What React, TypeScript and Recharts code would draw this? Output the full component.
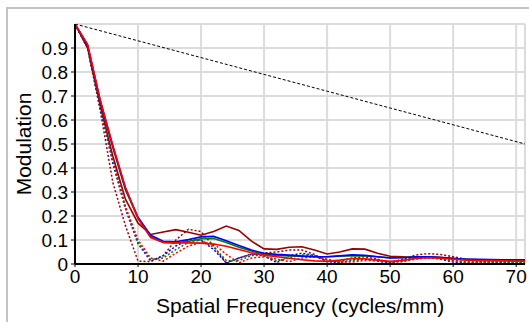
import React from 'react';
import {
  LineChart,
  Line,
  XAxis,
  YAxis,
  CartesianGrid,
  ReferenceLine,
  Label
} from 'recharts';

// spatial frequency samples (cycles/mm), Nyquist at 71.4
const freq = [0, 2, 4, 6, 8, 10, 12, 14, 16, 18, 20, 22, 24, 26, 28, 30, 32, 34, 36, 38, 40, 42, 44, 46, 48, 50, 52, 54, 56, 58, 60, 62, 64, 66, 68, 70, 71.4];

// solid curves
const tanBlue = [1, 0.91, 0.68, 0.49, 0.315, 0.195, 0.12, 0.095, 0.093, 0.102, 0.113, 0.115, 0.097, 0.077, 0.058, 0.045, 0.04, 0.037, 0.033, 0.03, 0.03, 0.034, 0.038, 0.036, 0.03, 0.025, 0.026, 0.03, 0.03, 0.027, 0.023, 0.02, 0.02, 0.019, 0.018, 0.018, 0.018];
const tanGreen = [1, 0.91, 0.675, 0.485, 0.31, 0.19, 0.115, 0.09, 0.088, 0.095, 0.105, 0.106, 0.09, 0.07, 0.054, 0.04, 0.036, 0.034, 0.032, 0.03, 0.03, 0.033, 0.035, 0.034, 0.03, 0.026, 0.027, 0.03, 0.03, 0.026, 0.022, 0.02, 0.018, 0.017, 0.016, 0.016, 0.016];
const tanRed = [1, 0.915, 0.685, 0.495, 0.32, 0.19, 0.11, 0.09, 0.088, 0.088, 0.087, 0.083, 0.074, 0.06, 0.047, 0.037, 0.03, 0.024, 0.018, 0.013, 0.011, 0.016, 0.023, 0.022, 0.016, 0.011, 0.015, 0.023, 0.026, 0.024, 0.02, 0.016, 0.014, 0.014, 0.013, 0.012, 0.012];
const tanDarkRed = [1, 0.9, 0.66, 0.45, 0.27, 0.17, 0.123, 0.133, 0.143, 0.132, 0.12, 0.135, 0.158, 0.14, 0.095, 0.063, 0.061, 0.07, 0.072, 0.058, 0.042, 0.05, 0.063, 0.062, 0.045, 0.032, 0.03, 0.026, 0.03, 0.028, 0.024, 0.02, 0.018, 0.018, 0.016, 0.015, 0.015];

// dotted curves
const sagBlue = [1, 0.9, 0.65, 0.42, 0.23, 0.085, 0.012, 0.035, 0.075, 0.1, 0.1, 0.06, 0.005, 0.025, 0.042, 0.035, 0.005, 0.035, 0.045, 0.035, 0.01, 0.005, 0.018, 0.02, 0.012, 0.004, 0.015, 0.028, 0.03, 0.02, 0.008, 0.004, 0.006, 0.008, 0.007, 0.006, 0.006];
const sagGreen = [1, 0.9, 0.655, 0.43, 0.235, 0.09, 0.018, 0.025, 0.06, 0.09, 0.1, 0.07, 0.015, 0.015, 0.035, 0.035, 0.012, 0.025, 0.038, 0.035, 0.018, 0.006, 0.013, 0.02, 0.016, 0.006, 0.012, 0.025, 0.03, 0.022, 0.012, 0.006, 0.006, 0.008, 0.008, 0.007, 0.007];
const sagRed = [1, 0.9, 0.66, 0.44, 0.24, 0.1, 0.025, 0.012, 0.045, 0.075, 0.09, 0.085, 0.04, 0.005, 0.025, 0.03, 0.02, 0.01, 0.025, 0.03, 0.02, 0.008, 0.008, 0.015, 0.015, 0.008, 0.01, 0.02, 0.025, 0.022, 0.015, 0.01, 0.008, 0.01, 0.011, 0.01, 0.01];
const sagDarkRed = [1, 0.9, 0.64, 0.34, 0.16, 0.012, 0.01, 0.035, 0.1, 0.145, 0.135, 0.075, 0.003, 0.025, 0.04, 0.046, 0.05, 0.058, 0.058, 0.04, 0.01, 0.012, 0.025, 0.03, 0.02, 0.005, 0.02, 0.037, 0.043, 0.04, 0.03, 0.02, 0.012, 0.008, 0.01, 0.012, 0.013];

// black dashed reference curve
const diffFreq = [0, 10, 20, 30, 40, 50, 60, 71.4];
const diffMod = [1, 0.93, 0.86, 0.79, 0.72, 0.65, 0.58, 0.5];

const xTicks = [0, 10, 20, 30, 40, 50, 60, 70];
const yTicks = [0, 0.1, 0.2, 0.3, 0.4, 0.5, 0.6, 0.7, 0.8, 0.9];

const data = freq.map((f, i) => ({
  f,
  tanBlue: tanBlue[i],
  tanGreen: tanGreen[i],
  tanRed: tanRed[i],
  tanDarkRed: tanDarkRed[i],
  sagBlue: sagBlue[i],
  sagGreen: sagGreen[i],
  sagRed: sagRed[i],
  sagDarkRed: sagDarkRed[i]
}));

const diffData = diffFreq.map((f, i) => ({ f, diff: diffMod[i] }));

const FONT = '"Liberation Sans", Arial, sans-serif';
const tickStyle = { fill: '#000', fontSize: 19, fontFamily: FONT };

const dotted = [
  { key: 'sagDarkRed', color: '#990000' },
  { key: 'sagBlue', color: '#0000ff' },
  { key: 'sagGreen', color: '#008000' },
  { key: 'sagRed', color: '#ff0000' }
];
const solid = [
  { key: 'tanDarkRed', color: '#990000' },
  { key: 'tanGreen', color: '#008000' },
  { key: 'tanBlue', color: '#0000ff' },
  { key: 'tanRed', color: '#ff0000' }
];

export default function App() {
  return (
    <div style={{ position: 'absolute', left: 0, top: 0, width: 529, height: 322, overflow: 'hidden', background: '#fff' }}>
      <div
        style={{
          position: 'absolute',
          left: 6,
          top: 7,
          width: 600,
          height: 400,
          borderTop: '2px solid #c4c4c4',
          borderLeft: '2px solid #c4c4c4'
        }}
      />
      <div style={{ position: 'absolute', left: 0, top: 0 }}>
        <LineChart width={529} height={322} data={data} margin={{ top: 24, right: 4, bottom: 0, left: 0 }}>
          <CartesianGrid stroke="#dcdcdc" strokeWidth={2} />
          <ReferenceLine y={1} stroke="#dcdcdc" strokeWidth={2} />
          <ReferenceLine x={71.4} stroke="#dcdcdc" strokeWidth={2} />
          <XAxis
            dataKey="f"
            type="number"
            domain={[0, 71.4]}
            ticks={xTicks}
            interval={0}
            allowDataOverflow
            height={58}
            tickSize={3}
            tickMargin={3}
            tick={tickStyle}
            axisLine={{ stroke: '#000', strokeWidth: 2 }}
            tickLine={{ stroke: '#000' }}
          >
            <Label
              value="Spatial Frequency (cycles/mm)"
              position="insideBottom"
              offset={9}
              style={{ fill: '#000', fontSize: 21, fontFamily: FONT }}
            />
          </XAxis>
          <YAxis
            type="number"
            domain={[0, 1]}
            ticks={yTicks}
            interval={0}
            allowDataOverflow
            width={75}
            tickSize={4}
            tickMargin={3}
            tick={tickStyle}
            tickFormatter={(v: number) => (v === 0 ? '0' : String(v))}
            axisLine={{ stroke: '#000', strokeWidth: 2 }}
            tickLine={{ stroke: '#000' }}
          >
            <Label
              content={({ viewBox }: any) => {
                const cy = viewBox.y + viewBox.height / 2;
                return (
                  <text
                    x={31}
                    y={cy}
                    transform={`rotate(-90 31 ${cy})`}
                    textAnchor="middle"
                    fill="#000"
                    fontSize={21}
                    fontFamily={FONT}
                  >
                    Modulation
                  </text>
                );
              }}
            />
          </YAxis>
          {dotted.map((s) => (
            <Line
              key={s.key}
              type="linear"
              dataKey={s.key}
              stroke={s.color}
              strokeWidth={1.5}
              strokeDasharray="2 2"
              dot={false}
              isAnimationActive={false}
            />
          ))}
          <Line
            data={diffData}
            type="linear"
            dataKey="diff"
            stroke="#000"
            strokeWidth={1}
            strokeDasharray="3 2"
            dot={false}
            isAnimationActive={false}
          />
          {solid.map((s) => (
            <Line
              key={s.key}
              type="linear"
              dataKey={s.key}
              stroke={s.color}
              strokeWidth={1.6}
              dot={false}
              isAnimationActive={false}
            />
          ))}
        </LineChart>
      </div>
    </div>
  );
}
